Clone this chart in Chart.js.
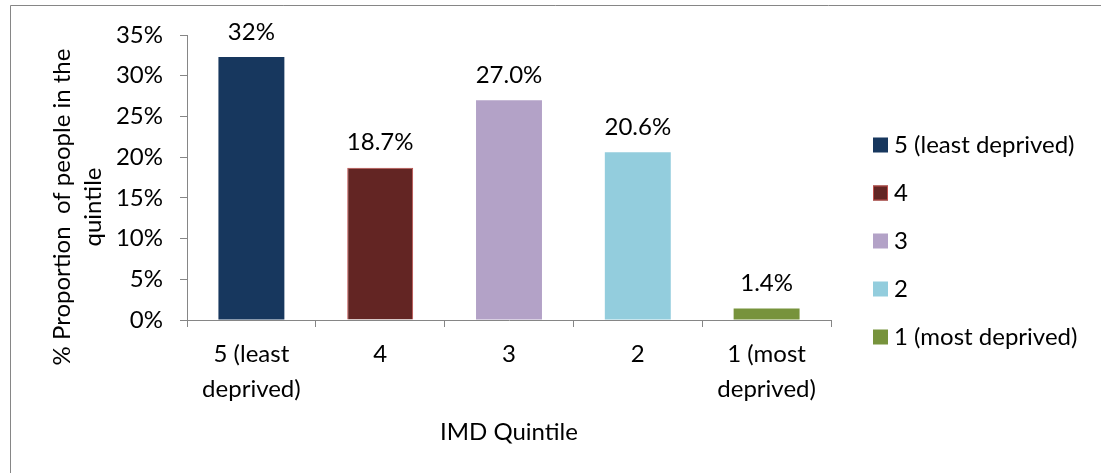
<!DOCTYPE html>
<html>
<head>
<meta charset="utf-8">
<script src="https://cdn.jsdelivr.net/npm/chart.js@4.4.1/dist/chart.umd.min.js"></script>
<style>
  html, body { margin: 0; padding: 0; background: #fff; overflow: hidden; }
  canvas { display: block; }
</style>
</head>
<body>
<canvas id="chart" width="1101" height="473"></canvas>
<script>
// data
const categories = [["5 (least", "deprived)"], "4", "3", "2", ["1 (most", "deprived)"]];
const legendNames = ["5 (least deprived)", "4", "3", "2", "1 (most deprived)"];
const shares = [32.3, 18.7, 27.0, 20.6, 1.4];
const shareLabels = ["32%", "18.7%", "27.0%", "20.6%", "1.4%"];
const yTicks = [0, 5, 10, 15, 20, 25, 30, 35];

// styles
const fills = ["#17375E", "#632523", "#B3A2C7", "#93CDDD", "#77933C"];
const edges = ["#17375E", "#C0504D", "#B3A2C7", "#93CDDD", "#77933C"];
const edgeWidths = [0, 1, 0, 0, 0];
const FAMILY = "Lato";
const SIZE = 24;
const AXIS = "#868686";

// frame, value labels, axis titles and legend
const extras = {
  id: "extras",
  beforeDraw(chart) {
    const ctx = chart.ctx;
    ctx.save();
    ctx.strokeStyle = AXIS;
    ctx.lineWidth = 1;
    ctx.beginPath();
    ctx.moveTo(10.5, 473);
    ctx.lineTo(10.5, 5.5);
    ctx.lineTo(1101, 5.5);
    ctx.stroke();
    ctx.restore();
  },
  afterDraw(chart) {
    const ctx = chart.ctx;
    const area = chart.chartArea;
    const meta = chart.getDatasetMeta(0);
    ctx.save();
    ctx.font = SIZE + "px " + FAMILY;
    ctx.fillStyle = "#000";
    ctx.textAlign = "center";
    ctx.textBaseline = "middle";

    meta.data.forEach((bar, i) => {
      ctx.fillText(shareLabels[i], bar.x, bar.y - 25);
    });

    // x title
    ctx.fillText("IMD Quintile", (area.left + area.right) / 2, 432);

    // y title, two lines
    ctx.save();
    ctx.translate(62, 207);
    ctx.rotate(-Math.PI / 2);
    ctx.fillText("% Proportion  of people in the", 0, 0);
    ctx.fillText("quintile", 0, 31);
    ctx.restore();

    // legend
    ctx.textAlign = "left";
    legendNames.forEach((name, i) => {
      const y = 145 + 48 * i;
      ctx.fillStyle = fills[i];
      ctx.fillRect(873, y - 7.5, 15, 15);
      if (edgeWidths[i]) {
        ctx.strokeStyle = edges[i];
        ctx.lineWidth = 1;
        ctx.strokeRect(873.5, y - 7, 14, 14);
      }
      ctx.fillStyle = "#000";
      ctx.fillText(name, 894, y);
    });
    ctx.restore();
  }
};

new Chart(document.getElementById("chart"), {
  type: "bar",
  data: {
    labels: categories,
    datasets: [{
      data: shares,
      backgroundColor: fills,
      borderColor: edges,
      borderWidth: edgeWidths,
      categoryPercentage: 1,
      barPercentage: 0.512
    }]
  },
  options: {
    responsive: false,
    animation: false,
    devicePixelRatio: 1,
    layout: { padding: { left: 10, right: 270, top: 35, bottom: 0 } },
    plugins: { legend: { display: false }, tooltip: { enabled: false } },
    scales: {
      x: {
        grid: { offset: true, drawOnChartArea: false, drawTicks: true, tickLength: 7, color: AXIS },
        border: { display: true, color: AXIS, width: 1 },
        ticks: { color: "#000", padding: 10, maxRotation: 0, autoSkip: false,
                 font: { family: FAMILY, size: SIZE, lineHeight: 1.46 } },
        afterFit(scale) { scale.height = 153; }
      },
      y: {
        min: 0,
        max: 35,
        afterBuildTicks(scale) { scale.ticks = yTicks.map(v => ({ value: v })); },
        grid: { drawOnChartArea: false, drawTicks: true, tickLength: 7, color: AXIS },
        border: { display: true, color: AXIS, width: 1 },
        ticks: { color: "#000", padding: 17, callback: v => v + "%",
                 font: { family: FAMILY, size: SIZE } },
        afterFit(scale) { scale.width = 177; }
      }
    }
  },
  plugins: [extras]
});
</script>
</body>
</html>
